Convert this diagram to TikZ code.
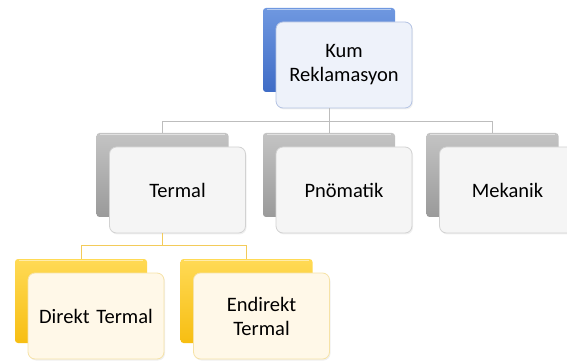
\documentclass[tikz,border=0pt]{standalone}
\usepackage{fontspec}
\setmainfont{Carlito}
\usetikzlibrary{positioning,shadows}

\definecolor{blueback}{HTML}{3F6CC6}
\definecolor{bluetop}{HTML}{6F98E0}
\definecolor{bluefront}{HTML}{EEF2FA}
\definecolor{blueline}{HTML}{B4C3E3}
\definecolor{grayback}{HTML}{9A9A9A}
\definecolor{graytop}{HTML}{C4C4C4}
\definecolor{grayfront}{HTML}{F5F5F5}
\definecolor{grayline}{HTML}{D2D2D2}
\definecolor{yellowback}{HTML}{F7BE12}
\definecolor{yellowtop}{HTML}{FFDA55}
\definecolor{yellowfront}{HTML}{FFF8E8}
\definecolor{yellowline}{HTML}{F6E2A6}
\definecolor{linkgray}{HTML}{BDBDBD}
\definecolor{linkyellow}{HTML}{F3CB5A}

\begin{document}
\begin{tikzpicture}[x=1pt,y=-1pt,
  back/.style={rounded corners=3pt, minimum width=132pt, minimum height=84pt,
    inner sep=0pt},
  front/.style={rounded corners=7pt, minimum width=136pt, minimum height=86pt,
    text width=128pt, align=center, inner sep=0pt, line width=0.8pt,
    font=\fontsize{20.5}{24}\selectfont,
    drop shadow={opacity=0.12, shadow xshift=1pt, shadow yshift=-1.5pt}},
  blueB/.style={back, top color=bluetop, bottom color=blueback},
  grayB/.style={back, top color=graytop, bottom color=grayback},
  yellowB/.style={back, top color=yellowtop, bottom color=yellowback},
  blueF/.style={front, draw=blueline, fill=bluefront},
  grayF/.style={front, draw=grayline, fill=grayfront},
  yellowF/.style={front, draw=yellowline, fill=yellowfront},
  link/.style={draw=linkgray, line width=0.8pt},
  ylink/.style={draw=linkyellow, line width=0.8pt}]

  % Frame
  \useasboundingbox (0,0) rectangle (567,363);

  % Back boxes
  \node[blueB] (kumB) at (329,50) {};
  \node[grayB] (termalB) at (162.5,175) {};
  \node[grayB] (pnoB) at (329,175) {};
  \node[grayB] (mekB) at (492.5,175) {};
  \node[yellowB] (direktB) at (81,301) {};
  \node[yellowB] (endirektB) at (246.5,301) {};

  % Highlights on the back boxes
  \foreach \b in {kumB,termalB,pnoB,mekB,direktB,endirektB}
    \draw[white, opacity=0.5, line width=0.8pt]
      ([xshift=4pt,yshift=-2pt]\b.north west) -- ([xshift=-4pt,yshift=-2pt]\b.north east);

  % Front boxes
  \node[blueF] (kum) at ([xshift=15pt,yshift=-15pt]kumB.center) {Kum\\Reklamasyon};
  \node[grayF] (termal) at ([xshift=15pt,yshift=-15pt]termalB.center) {Termal};
  \node[grayF] (pno) at ([xshift=15pt,yshift=-15pt]pnoB.center) {Pnömatik};
  \node[grayF] (mek) at ([xshift=15pt,yshift=-15pt]mekB.center) {Mekanik};
  \node[yellowF] (direkt) at ([xshift=15pt,yshift=-15pt]direktB.center) {Direkt Termal};
  \node[yellowF] (endirekt) at ([xshift=15pt,yshift=-15pt]endirektB.center) {Endirekt\\Termal};

  % Bus lines
  \coordinate (bus1) at (0,121);
  \coordinate (bus2) at (0,245);
  \coordinate (kumL) at (kum.south -| kumB.center);
  \coordinate (termalL) at (termal.south -| termalB.center);

  % Connectors
  \draw[link] (kumL) -- (kumL |- bus1) -| (termalB.north);
  \draw[link] (kumL |- bus1) -- (pnoB.north);
  \draw[link] (kumL |- bus1) -| (mekB.north);
  \draw[ylink] (termalL) -- (termalL |- bus2) -| (direktB.north);
  \draw[ylink] (termalL |- bus2) -| (endirektB.north);

\end{tikzpicture}
\end{document}
